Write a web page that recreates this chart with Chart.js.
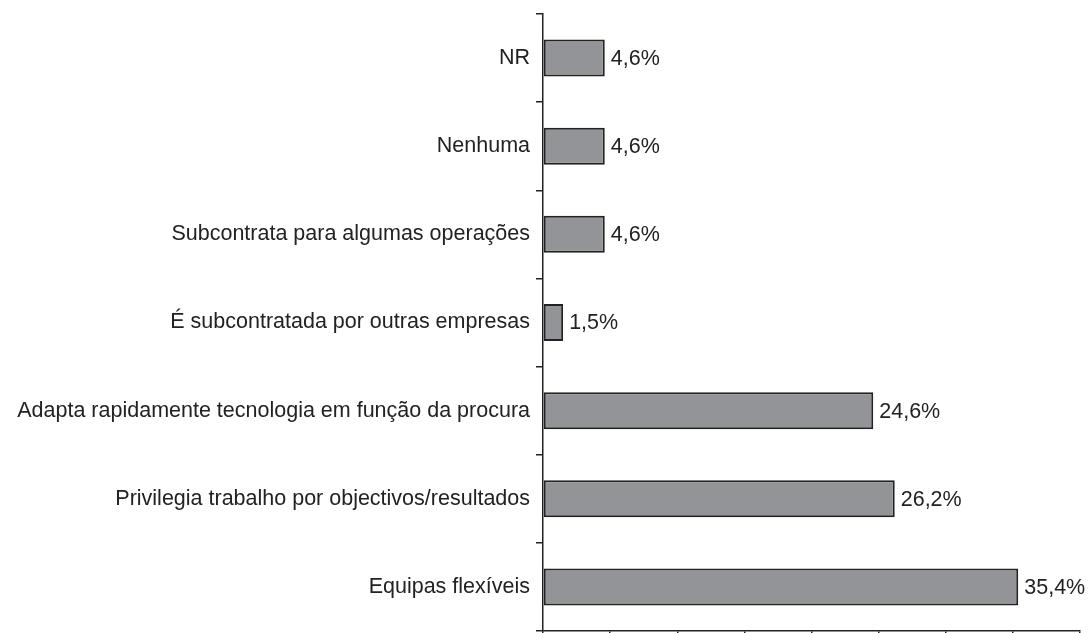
<!DOCTYPE html>
<html lang="pt">
<head>
    <meta charset="UTF-8">
    <title>Práticas de flexibilidade</title>
    <script src="https://cdn.jsdelivr.net/npm/chart.js"></script>
    <style>
        html, body {
            margin: 0;
            padding: 0;
            background: #ffffff;
        }
        .wrap {
            width: 1092px;
            height: 633px;
        }
    </style>
</head>
<body>
    <div class="wrap">
        <canvas id="barChart"></canvas>
    </div>

    <script>
        // Dados
        const categorias = [
            'NR',
            'Nenhuma',
            'Subcontrata para algumas operações',
            'É subcontratada por outras empresas',
            'Adapta rapidamente tecnologia em função da procura',
            'Privilegia trabalho por objectivos/resultados',
            'Equipas flexíveis'
        ];
        const percentagens = [4.6, 4.6, 4.6, 1.5, 24.6, 26.2, 35.4];
        const eixoMin = 0;
        const eixoMax = 40;
        const eixoPasso = 5;

        const corTexto = '#222222';
        const fonte = "'Liberation Sans', Arial, sans-serif";

        // Etiquetas de valor à direita das barras
        const etiquetasValor = {
            id: 'etiquetasValor',
            afterDatasetsDraw(chart) {
                const ctx = chart.ctx;
                const meta = chart.getDatasetMeta(0);
                ctx.save();
                ctx.font = '21.5px ' + fonte;
                ctx.fillStyle = corTexto;
                ctx.textAlign = 'left';
                ctx.textBaseline = 'middle';
                meta.data.forEach((bar, i) => {
                    const txt = percentagens[i].toFixed(1).replace('.', ',') + '%';
                    ctx.fillText(txt, bar.x + 6, bar.y + 1);
                });
                ctx.restore();
            }
        };

        window.onload = function () {
            new Chart(document.getElementById('barChart'), {
                type: 'bar',
                data: {
                    labels: categorias,
                    datasets: [{
                        data: percentagens,
                        backgroundColor: '#939497',
                        borderColor: '#222222',
                        borderWidth: 2,
                        borderSkipped: false,
                        barPercentage: 0.42,
                        categoryPercentage: 1
                    }]
                },
                options: {
                    indexAxis: 'y',
                    responsive: true,
                    maintainAspectRatio: false,
                    animation: false,
                    layout: {
                        padding: { top: 14, left: 0, right: 12, bottom: 0 }
                    },
                    plugins: {
                        legend: { display: false },
                        tooltip: { enabled: false }
                    },
                    scales: {
                        x: {
                            min: eixoMin,
                            max: eixoMax,
                            ticks: { display: false, stepSize: eixoPasso },
                            grid: {
                                drawOnChartArea: false,
                                drawTicks: true,
                                tickLength: 7,
                                color: '#222222',
                                lineWidth: 1.5
                            },
                            border: { color: '#222222', width: 1.5 },
                            afterFit(scale) {
                                scale.height = 2;
                                scale.paddingLeft = 0;
                                scale.paddingRight = 0;
                            }
                        },
                        y: {
                            ticks: {
                                color: corTexto,
                                font: { family: fonte, size: 21.5 },
                                padding: 6
                            },
                            grid: {
                                offset: true,
                                drawOnChartArea: false,
                                drawTicks: true,
                                tickLength: 7,
                                color: '#222222',
                                lineWidth: 1.5
                            },
                            border: { color: '#222222', width: 1.5 },
                            afterFit(scale) {
                                scale.width = 543;
                                scale.paddingTop = 0;
                                scale.paddingBottom = 0;
                            }
                        }
                    }
                },
                plugins: [etiquetasValor]
            });
        };
    </script>
</body>
</html>
